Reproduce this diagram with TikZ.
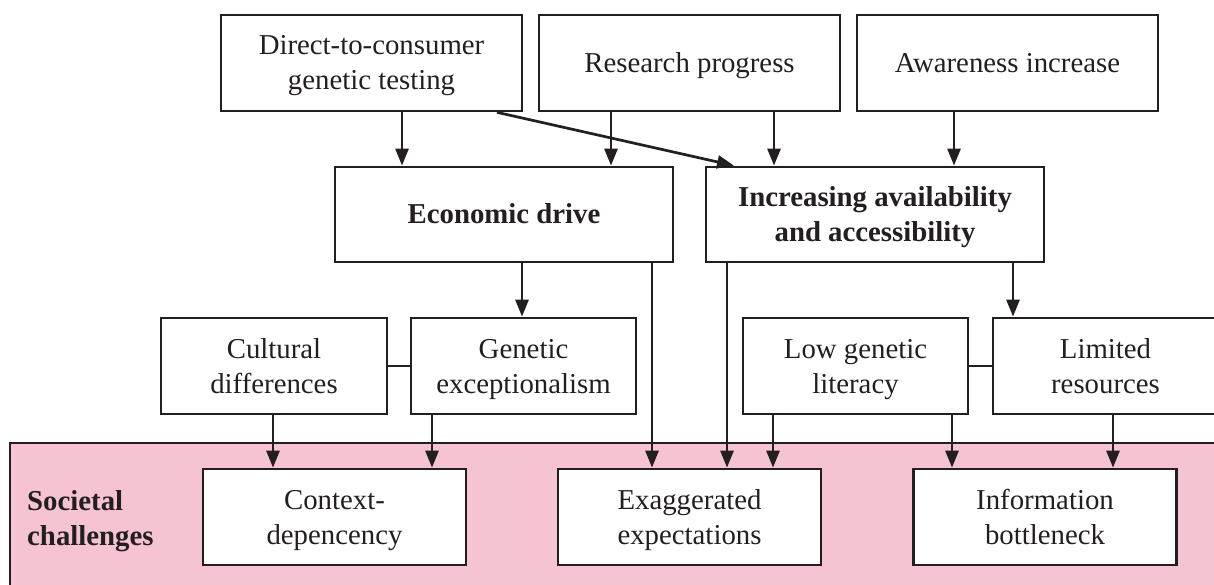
\documentclass[tikz,border=0pt]{standalone}
\usepackage{fontspec}
\setmainfont{Liberation Serif}
\usetikzlibrary{arrows.meta}
\definecolor{ink}{HTML}{231F20}
\definecolor{pinkbg}{HTML}{F6C3D3}
\newcommand{\ls}{\rule[-8pt]{0pt}{35pt}}
\begin{document}
\begin{tikzpicture}[x=1pt,y=-1pt,
  box/.style={draw=ink,line width=2.7pt,fill=white,text=ink,align=center,
    inner sep=0pt,font=\fontsize{28.8}{35}\selectfont},
  boldbox/.style={box,font=\fontsize{28.8}{35}\selectfont\bfseries},
  conn/.style={draw=ink,line width=2.7pt},
  arr/.style={conn,-{Triangle[length=17pt,width=13pt]}}]
\useasboundingbox (0,0) rectangle (1214,585);
% challenge band
\path[fill=pinkbg,draw=ink,line width=2.7pt] (10,443) rectangle (1240,610);
\node[anchor=west,text=ink,align=left,inner sep=0pt,
  font=\fontsize{28.8}{35}\selectfont\bfseries] (soc) at (27,518) {\ls Societal\\\ls challenges};
% top row
\node[box,minimum width=301pt,minimum height=96pt] (dtc) at (371.5,63) {\ls Direct-to-consumer\\\ls genetic testing};
\node[box,minimum width=301pt,minimum height=96pt] (res) at (689.5,63) {\ls Research progress};
\node[box,minimum width=301pt,minimum height=96pt] (awa) at (1007.5,63) {\ls Awareness increase};
% second row
\node[boldbox,minimum width=338pt,minimum height=95pt] (eco) at (504,214.5) {\ls Economic drive};
\node[boldbox,minimum width=338pt,minimum height=95pt] (inc) at (875,214.5) {\ls Increasing availability\\\ls and accessibility};
% third row
\node[box,minimum width=226pt,minimum height=96pt] (cul) at (274,366) {\ls Cultural\\\ls differences};
\node[box,minimum width=225pt,minimum height=96pt] (gen) at (523.5,366) {\ls Genetic\\\ls exceptionalism};
\node[box,minimum width=225pt,minimum height=96pt] (low) at (855.5,366) {\ls Low genetic\\\ls literacy};
\node[box,minimum width=225pt,minimum height=96pt] (lim) at (1105.5,366) {\ls Limited\\\ls resources};
% bottom row
\node[box,minimum width=263pt,minimum height=96pt] (ctx) at (334.5,517) {\ls Context-\\\ls depencency};
\node[box,minimum width=263pt,minimum height=96pt] (exa) at (689.5,517) {\ls Exaggerated\\\ls expectations};
\node[box,minimum width=263pt,minimum height=96pt] (inf) at (1045,517) {\ls Information\\\ls bottleneck};
% connector columns
\coordinate (c402) at (402,0);
\coordinate (c611) at (611,0);
\coordinate (c774) at (774,0);
\coordinate (c954) at (954,0);
\coordinate (c497) at (497,0);
\coordinate (c734) at (734,0);
\coordinate (c522) at (522,0);
\coordinate (c652) at (652,0);
\coordinate (c727) at (727,0);
\coordinate (c1013) at (1013,0);
\coordinate (c273) at (273,0);
\coordinate (c432) at (432,0);
\coordinate (c773) at (773,0);
\coordinate (c952) at (952,0);
\coordinate (c1113) at (1113,0);
% arrows
\draw[arr] (dtc.south -| c402) -- (eco.north -| c402);
\draw[arr] (res.south -| c611) -- (eco.north -| c611);
\draw[arr] (res.south -| c774) -- (inc.north -| c774);
\draw[arr] (awa.south -| c954) -- (inc.north -| c954);
\draw[arr] (dtc.south -| c497) -- (inc.north -| c734);
\draw[arr] (eco.south -| c522) -- (gen.north -| c522);
\draw[arr] (eco.south -| c652) -- (exa.north -| c652);
\draw[arr] (inc.south -| c727) -- (exa.north -| c727);
\draw[arr] (inc.south -| c1013) -- (lim.north -| c1013);
\draw[arr] (cul.south -| c273) -- (ctx.north -| c273);
\draw[arr] (gen.south -| c432) -- (ctx.north -| c432);
\draw[arr] (low.south -| c773) -- (exa.north -| c773);
\draw[arr] (low.south -| c952) -- (inf.north -| c952);
\draw[arr] (lim.south -| c1113) -- (inf.north -| c1113);
\draw[conn] (cul.east) -- (gen.west);
\draw[conn] (low.east) -- (lim.west);
\end{tikzpicture}
\end{document}
